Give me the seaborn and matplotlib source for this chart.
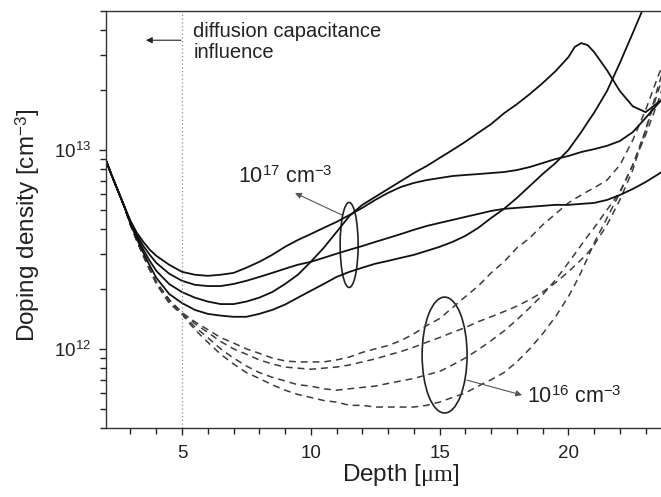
import numpy as np
import matplotlib
matplotlib.use("Agg")
import matplotlib.pyplot as plt
from matplotlib.patches import Ellipse
from matplotlib.ticker import LogLocator, MultipleLocator, NullFormatter
import seaborn as sns

############
# Data (doping density in 1e12 cm^-3)
############
UNIT = 1e12
depth = [2.0, 2.25, 2.5, 2.75, 3.0, 3.25, 3.5, 3.75, 4.0, 4.5, 5.0, 5.5, 6.0, 6.5,
         7.0, 7.5, 8.0, 8.5, 9.0, 9.5, 10.0, 10.5, 11.0, 11.5, 12.0, 12.5, 13.0,
         13.5, 14.0, 14.5, 15.0, 15.5, 16.0, 16.5, 17.0, 17.5, 18.0, 18.5, 19.0,
         19.5, 20.0, 20.25, 20.5, 20.75, 21.0, 21.5, 22.0, 22.5, 23.0, 23.5, 24.0]

# 1e17 cm^-3 samples (solid)
solid_a = [9.22, 7.57, 6.30, 5.24, 4.40, 3.83, 3.45, 3.15, 2.94, 2.65, 2.44, 2.36,
           2.33, 2.36, 2.41, 2.56, 2.74, 2.97, 3.26, 3.53, 3.78, 4.06, 4.35, 4.71,
           5.12, 5.61, 6.09, 6.52, 6.83, 7.06, 7.23, 7.40, 7.49, 7.57, 7.66, 7.75,
           7.93, 8.21, 8.60, 9.01, 9.33, 9.55, 9.77, 9.94, 10.1, 10.5, 11.1, 12.3,
           14.5, 17.2, 20.0]
solid_b = [9.22, 7.57, 6.30, 5.24, 4.35, 3.74, 3.29, 2.97, 2.71, 2.39, 2.20, 2.10,
           2.07, 2.07, 2.12, 2.20, 2.30, 2.41, 2.53, 2.65, 2.74, 2.87, 3.01, 3.15,
           3.29, 3.45, 3.61, 3.78, 3.97, 4.15, 4.30, 4.45, 4.61, 4.77, 4.94, 5.06,
           5.12, 5.18, 5.24, 5.30, 5.30, 5.33, 5.36, 5.39, 5.42, 5.61, 5.94, 6.37,
           6.90, 7.57, 8.40]
solid_c = [9.22, 7.57, 6.30, 5.24, 4.30, 3.66, 3.15, 2.77, 2.47, 2.12, 1.93, 1.81,
           1.73, 1.68, 1.68, 1.73, 1.81, 1.93, 2.12, 2.36, 2.74, 3.22, 3.87, 4.66,
           5.30, 5.81, 6.37, 6.98, 7.66, 8.31, 9.12, 10.0, 11.0, 12.2, 13.5, 15.3,
           17.0, 19.1, 21.7, 24.9, 29.3, 33.0, 34.5, 33.7, 31.1, 25.2, 19.8, 16.6,
           15.5, 17.4, 19.5]
solid_d = [9.22, 7.57, 6.30, 5.24, 4.25, 3.57, 3.04, 2.62, 2.28, 1.89, 1.70, 1.57,
           1.50, 1.47, 1.45, 1.45, 1.50, 1.57, 1.67, 1.81, 1.96, 2.12, 2.30, 2.44,
           2.56, 2.68, 2.77, 2.87, 2.97, 3.11, 3.26, 3.45, 3.70, 4.06, 4.55, 5.06,
           5.74, 6.59, 7.57, 8.60, 10.0, 11.1, 12.3, 13.8, 15.4, 19.8, 27.4, 38.7,
           55.0, 78.0, 110.0]

# 1e16 cm^-3 samples (dashed)
dashed_a = [9.22, 7.57, 6.30, 5.24, 4.20, 3.49, 2.94, 2.50, 2.17, 1.77, 1.52, 1.37,
            1.25, 1.14, 1.07, 1.00, 0.95, 0.90, 0.87, 0.86, 0.86, 0.86, 0.88, 0.91,
            0.96, 1.00, 1.04, 1.10, 1.19, 1.31, 1.42, 1.61, 1.83, 2.07, 2.41, 2.74,
            3.22, 3.61, 4.20, 4.77, 5.42, 5.68, 5.94, 6.20, 6.45, 7.06, 8.40, 11.2,
            15.9, 23.8, 33.7]
dashed_b = [9.22, 7.57, 6.30, 5.24, 4.20, 3.49, 2.94, 2.50, 2.17, 1.77, 1.52, 1.34,
            1.21, 1.09, 1.00, 0.94, 0.88, 0.84, 0.81, 0.80, 0.79, 0.80, 0.81, 0.83,
            0.86, 0.89, 0.93, 0.97, 1.02, 1.08, 1.14, 1.21, 1.28, 1.37, 1.45, 1.54,
            1.64, 1.77, 1.93, 2.15, 2.44, 2.62, 2.81, 3.03, 3.33, 4.20, 5.61, 7.93,
            12.6, 21.2, 33.7]
dashed_c = [9.22, 7.57, 6.30, 5.24, 4.20, 3.49, 2.94, 2.50, 2.17, 1.73, 1.50, 1.29,
            1.14, 1.00, 0.90, 0.82, 0.76, 0.72, 0.69, 0.66, 0.65, 0.63, 0.62, 0.63,
            0.64, 0.65, 0.67, 0.69, 0.71, 0.74, 0.77, 0.83, 0.90, 0.99, 1.10, 1.23,
            1.40, 1.61, 1.87, 2.22, 2.71, 3.00, 3.33, 3.69, 4.06, 5.00, 6.16, 8.40,
            12.6, 20.0, 31.8]
dashed_d = [9.22, 7.57, 6.30, 5.24, 4.20, 3.49, 2.94, 2.50, 2.12, 1.70, 1.49, 1.25,
            1.08, 0.94, 0.84, 0.76, 0.71, 0.66, 0.62, 0.59, 0.57, 0.55, 0.54, 0.52,
            0.52, 0.51, 0.51, 0.51, 0.51, 0.52, 0.54, 0.57, 0.60, 0.65, 0.70, 0.76,
            0.86, 1.00, 1.19, 1.45, 1.83, 2.10, 2.44, 2.87, 3.41, 4.55, 6.09, 8.40,
            11.9, 17.8, 28.3]

solid_curves = [solid_a, solid_b, solid_c, solid_d]
dashed_curves = [dashed_a, dashed_b, dashed_c, dashed_d]
for c in solid_curves + dashed_curves:
    assert len(c) == len(depth)

#############
# Style
#############
sns.set_style("ticks")
plt.rcParams['font.family'] = ['Liberation Sans', 'DejaVu Sans']
plt.rcParams['mathtext.fontset'] = 'custom'
plt.rcParams['mathtext.rm'] = 'Liberation Serif'
plt.rcParams['mathtext.it'] = 'Liberation Serif:italic'
plt.rcParams['mathtext.sf'] = 'Liberation Sans'
plt.rcParams['axes.linewidth'] = 1.0

fig = plt.figure(figsize=(6.61, 4.97), dpi=100)
ax = fig.add_axes([0.1604, 0.1388, 0.8397, 0.839])

x = np.array(depth)
for vals in dashed_curves:
    sns.lineplot(x=x, y=np.array(vals) * UNIT, ax=ax, color='#3c3c3c',
                 lw=1.1, linestyle=(0, (4.5, 3.2)))
for vals in solid_curves:
    sns.lineplot(x=x, y=np.array(vals) * UNIT, ax=ax, color='#111111', lw=1.3)

ax.axvline(5, color='0.55', ls=(0, (1, 2)), lw=0.9)

ax.set_yscale('log')
ax.set_xlim(2.05, 23.6)
ax.set_ylim(4e11, 5e13)
ax.xaxis.set_major_locator(MultipleLocator(5))
ax.xaxis.set_minor_locator(MultipleLocator(1))
ax.yaxis.set_major_locator(LogLocator(base=10))
ax.yaxis.set_minor_locator(LogLocator(base=10, subs=np.arange(2, 10)))
ax.yaxis.set_minor_formatter(NullFormatter())
ax.tick_params(which='major', direction='out', length=5, width=1.0,
               labelsize=13.5, pad=7, colors='#222222')
ax.tick_params(which='minor', direction='out', length=4, width=1.0, colors='#222222')
ax.tick_params(axis='y', pad=6)
ax.spines['right'].set_visible(False)
for s in ['left', 'bottom', 'top']:
    ax.spines[s].set_color('#333333')

ax.set_xlabel(r'Depth [$\mathrm{\mu m}$]', fontsize=17.5, color='#222222')
ax.set_ylabel(r'Doping density [cm$^{\mathdefault{-3}}$]', fontsize=17.5, color='#222222')
ax.xaxis.set_label_coords(0.53, -0.082)
ax.yaxis.set_label_coords(-0.115, 0.486)

# annotations
ax.text(0.157, 0.974, 'diffusion capacitance\ninfluence', transform=ax.transAxes,
        fontsize=14.5, va='top', ha='left', linespacing=1.12, color='#222222')
ax.annotate('', xy=(0.072, 0.930), xytext=(0.135, 0.930), xycoords='axes fraction',
            arrowprops=dict(arrowstyle='-|>', color='#222222', lw=0.8,
                            mutation_scale=9, shrinkA=0, shrinkB=0))

ax.add_patch(Ellipse((0.438, 0.439), 0.0324, 0.204, transform=ax.transAxes,
                     fill=False, edgecolor='#222222', lw=1.2))
ax.add_patch(Ellipse((0.610, 0.175), 0.081, 0.278, transform=ax.transAxes,
                     fill=False, edgecolor='#222222', lw=1.2))

ax.text(0.238, 0.5875, r'10$^{\mathdefault{17}}$ cm$^{\mathdefault{-3}}$', transform=ax.transAxes,
        fontsize=15.5, va='baseline', ha='left', color='#222222')
ax.annotate('', xy=(0.3405, 0.5635), xytext=(0.425, 0.511), xycoords='axes fraction',
            arrowprops=dict(arrowstyle='-|>', color='#555555', lw=0.8,
                            mutation_scale=9, shrinkA=0, shrinkB=0))

ax.text(0.7586, 0.060, r'10$^{\mathdefault{16}}$ cm$^{\mathdefault{-3}}$', transform=ax.transAxes,
        fontsize=15.5, va='baseline', ha='left', color='#222222')
ax.annotate('', xy=(0.7495, 0.079), xytext=(0.650, 0.115), xycoords='axes fraction',
            arrowprops=dict(arrowstyle='-|>', color='#555555', lw=0.8,
                            mutation_scale=9, shrinkA=0, shrinkB=0))

fig.savefig('out.png', dpi=100)
